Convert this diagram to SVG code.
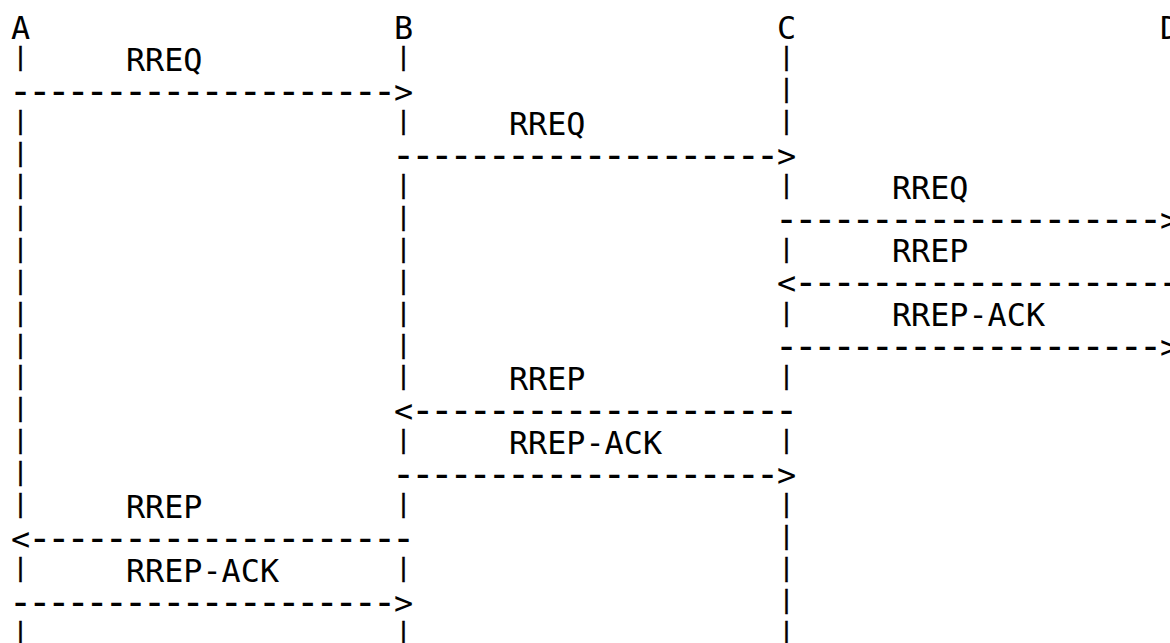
<svg xmlns="http://www.w3.org/2000/svg" width="1170" height="643" viewBox="0 0 1170 643">
<style>
.t { font-family: "DejaVu Sans Mono", "Liberation Mono", monospace; font-size: 31.8px; fill: #000; }
.p { font-family: "DejaVu Sans Mono", "Liberation Mono", monospace; font-size: 24px; fill: #000; stroke: #000; stroke-width: 0.5px; text-anchor: middle; }
.d { font-size: 40px; letter-spacing: -4.93px; }
</style>
<rect width="1170" height="643" fill="#fff"/>
<g id="node-A">
<text class="t" x="11" y="39">A</text>
<text class="p"><tspan x="20.58" y="65.26">|</tspan><tspan x="20.58" y="129.1">|</tspan><tspan x="20.58" y="161.02">|</tspan><tspan x="20.58" y="192.94">|</tspan><tspan x="20.58" y="224.86">|</tspan><tspan x="20.58" y="256.78">|</tspan><tspan x="20.58" y="288.7">|</tspan><tspan x="20.58" y="320.62">|</tspan><tspan x="20.58" y="352.54">|</tspan><tspan x="20.58" y="384.46">|</tspan><tspan x="20.58" y="416.38">|</tspan><tspan x="20.58" y="448.3">|</tspan><tspan x="20.58" y="480.22">|</tspan><tspan x="20.58" y="512.14">|</tspan><tspan x="20.58" y="575.98">|</tspan><tspan x="20.58" y="639.82">|</tspan></text>
</g>
<g id="node-B">
<text class="t" x="394" y="39">B</text>
<text class="p"><tspan x="403.58" y="65.26">|</tspan><tspan x="403.58" y="129.1">|</tspan><tspan x="403.58" y="192.94">|</tspan><tspan x="403.58" y="224.86">|</tspan><tspan x="403.58" y="256.78">|</tspan><tspan x="403.58" y="288.7">|</tspan><tspan x="403.58" y="320.62">|</tspan><tspan x="403.58" y="352.54">|</tspan><tspan x="403.58" y="384.46">|</tspan><tspan x="403.58" y="448.3">|</tspan><tspan x="403.58" y="512.14">|</tspan><tspan x="403.58" y="575.98">|</tspan><tspan x="403.58" y="639.82">|</tspan></text>
</g>
<g id="node-C">
<text class="t" x="777" y="39">C</text>
<text class="p"><tspan x="786.58" y="65.26">|</tspan><tspan x="786.58" y="97.18">|</tspan><tspan x="786.58" y="129.1">|</tspan><tspan x="786.58" y="192.94">|</tspan><tspan x="786.58" y="256.78">|</tspan><tspan x="786.58" y="320.62">|</tspan><tspan x="786.58" y="384.46">|</tspan><tspan x="786.58" y="448.3">|</tspan><tspan x="786.58" y="512.14">|</tspan><tspan x="786.58" y="544.06">|</tspan><tspan x="786.58" y="575.98">|</tspan><tspan x="786.58" y="607.9">|</tspan><tspan x="786.58" y="639.82">|</tspan></text>
</g>
<g id="node-D">
<text class="t" x="1160" y="39">D</text>
</g>
<g id="connectors">
<text class="t" x="125.9" y="70.92">RREQ</text>
<text class="t"><tspan class="d" x="8.53" y="104.84">--------------------</tspan><tspan x="394" y="102.84">&gt;</tspan></text>
<text class="t" x="508.9" y="134.76">RREQ</text>
<text class="t"><tspan class="d" x="391.53" y="168.68">--------------------</tspan><tspan x="777" y="166.68">&gt;</tspan></text>
<text class="t" x="891.9" y="198.6">RREQ</text>
<text class="t"><tspan class="d" x="774.53" y="232.52">--------------------</tspan><tspan x="1160" y="230.52">&gt;</tspan></text>
<text class="t" x="891.9" y="262.44">RREP</text>
<text class="t"><tspan x="777" y="294.36">&lt;</tspan><tspan class="d" x="793.68" y="296.36">--------------------</tspan></text>
<text class="t" x="891.9" y="326.28">RREP-ACK</text>
<text class="t"><tspan class="d" x="774.53" y="360.2">--------------------</tspan><tspan x="1160" y="358.2">&gt;</tspan></text>
<text class="t" x="508.9" y="390.12">RREP</text>
<text class="t"><tspan x="394" y="422.04">&lt;</tspan><tspan class="d" x="410.68" y="424.04">--------------------</tspan></text>
<text class="t" x="508.9" y="453.96">RREP-ACK</text>
<text class="t"><tspan class="d" x="391.53" y="487.88">--------------------</tspan><tspan x="777" y="485.88">&gt;</tspan></text>
<text class="t" x="125.9" y="517.8">RREP</text>
<text class="t"><tspan x="11" y="549.72">&lt;</tspan><tspan class="d" x="27.68" y="551.72">--------------------</tspan></text>
<text class="t" x="125.9" y="581.64">RREP-ACK</text>
<text class="t"><tspan class="d" x="8.53" y="615.56">--------------------</tspan><tspan x="394" y="613.56">&gt;</tspan></text>
</g>
</svg>
